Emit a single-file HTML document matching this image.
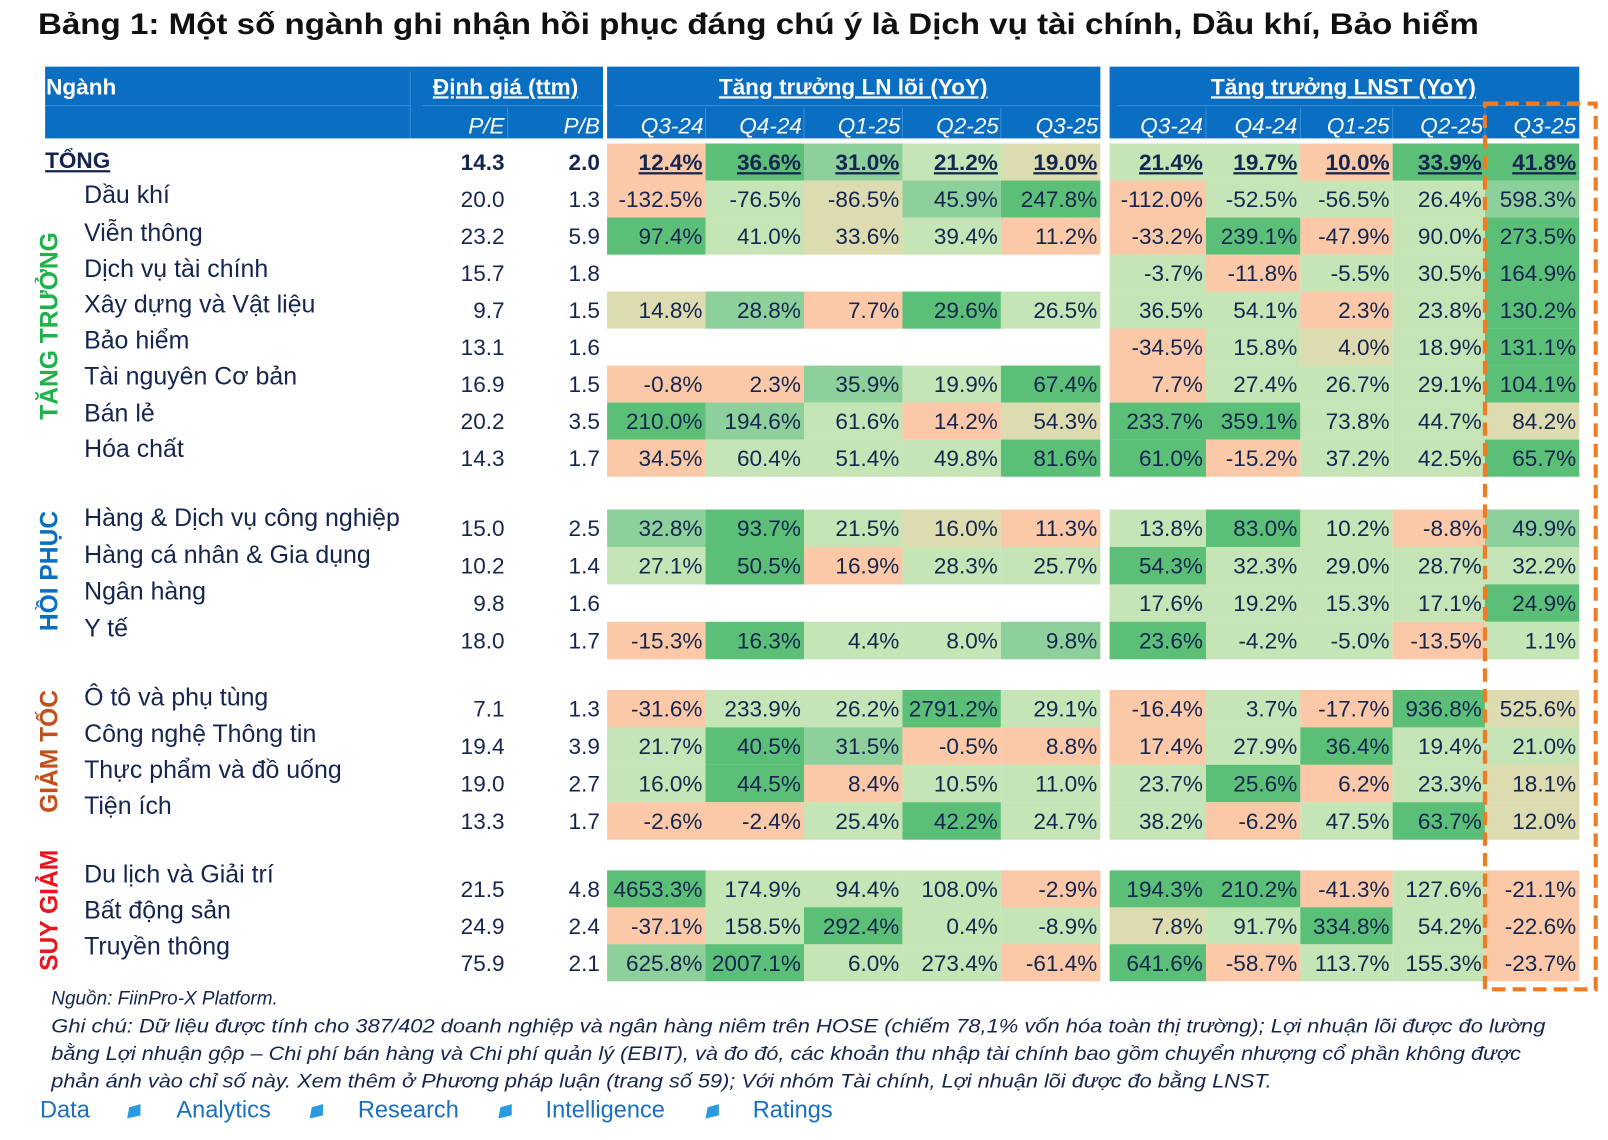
<!DOCTYPE html>
<html><head><meta charset="utf-8">
<style>
html,body{margin:0;padding:0;background:#fff;}
svg{display:block;}
text{font-family:"Liberation Sans",sans-serif;}
.O{fill:#fbc9a8}.G3{fill:#5cbf78}.G2{fill:#8ed09b}.G1{fill:#c5e5b6}.Y{fill:#dddcb0}
.n{font-size:22px;fill:#14254f;text-anchor:end}
.nm{font-size:24.3px;fill:#14254f}
.h{fill:#fff;font-weight:bold;font-size:22px}
.hi{fill:#fff;font-style:italic;font-size:22px;text-anchor:end}
</style></head><body>
<svg width="1608" height="1140" viewBox="0 0 1568 1112" preserveAspectRatio="none" xmlns="http://www.w3.org/2000/svg">
<text x="37" y="33" font-size="29" font-weight="bold" fill="#111" textLength="1405" lengthAdjust="spacingAndGlyphs">Bảng 1: Một số ngành ghi nhận hồi phục đáng chú ý là Dịch vụ tài chính, Dầu khí, Bảo hiểm</text>
<rect x="44" y="65" width="544" height="70" fill="#0a6fc2"/>
<rect x="592" y="65" width="481" height="70" fill="#0a6fc2"/>
<rect x="1082" y="65" width="458" height="70" fill="#0a6fc2"/>
<g stroke="#3b8fd6" stroke-width="1">
<line x1="44" y1="103" x2="400" y2="103"/><line x1="412" y1="103" x2="588" y2="103"/>
<line x1="600" y1="103" x2="1073" y2="103"/><line x1="1090" y1="103" x2="1540" y2="103"/>
<line x1="400" y1="70" x2="400" y2="135"/><line x1="495" y1="105" x2="495" y2="135"/>
<line x1="688" y1="105" x2="688" y2="135"/><line x1="784" y1="105" x2="784" y2="135"/><line x1="880" y1="105" x2="880" y2="135"/><line x1="976" y1="105" x2="976" y2="135"/>
<line x1="1176" y1="105" x2="1176" y2="135"/><line x1="1268" y1="105" x2="1268" y2="135"/><line x1="1358" y1="105" x2="1358" y2="135"/><line x1="1448" y1="105" x2="1448" y2="135"/>
</g>
<text class="h" x="45" y="92">Ngành</text>
<text class="h" x="493" y="92" text-anchor="middle" text-decoration="underline">Định giá (ttm)</text>
<text class="h" x="832" y="92" text-anchor="middle" text-decoration="underline">Tăng trưởng LN lõi (YoY)</text>
<text class="h" x="1310" y="92" text-anchor="middle" text-decoration="underline">Tăng trưởng LNST (YoY)</text>
<text class="hi" y="130"><tspan x="492">P/E</tspan><tspan x="585">P/B</tspan><tspan x="686">Q3-24</tspan><tspan x="782">Q4-24</tspan><tspan x="878">Q1-25</tspan><tspan x="974">Q2-25</tspan><tspan x="1071">Q3-25</tspan><tspan x="1173">Q3-24</tspan><tspan x="1265">Q4-24</tspan><tspan x="1355">Q1-25</tspan><tspan x="1446">Q2-25</tspan><tspan x="1537">Q3-25</tspan></text>

<text transform="translate(56,318) rotate(-90)" text-anchor="middle" font-size="24" font-weight="bold" fill="#1db34a">TĂNG TRƯỞNG</text>
<text transform="translate(56,557) rotate(-90)" text-anchor="middle" font-size="24" font-weight="bold" fill="#0a6fc2">HỒI PHỤC</text>
<text transform="translate(56,733) rotate(-90)" text-anchor="middle" font-size="24" font-weight="bold" fill="#c0501c">GIẢM TỐC</text>
<text transform="translate(56,888) rotate(-90)" text-anchor="middle" font-size="24" font-weight="bold" fill="#e8141e">SUY GIẢM</text>

<text x="44" y="164" font-size="22" font-weight="bold" fill="#14254f" text-decoration="underline">TỔNG</text>
<g class="nm">
<text x="82" y="198">Dầu khí</text><text x="82" y="235">Viễn thông</text><text x="82" y="270">Dịch vụ tài chính</text><text x="82" y="305">Xây dựng và Vật liệu</text><text x="82" y="340">Bảo hiểm</text><text x="82" y="375">Tài nguyên Cơ bản</text><text x="82" y="411">Bán lẻ</text><text x="82" y="446">Hóa chất</text>
<text x="82" y="513">Hàng &amp; Dịch vụ công nghiệp</text><text x="82" y="549">Hàng cá nhân &amp; Gia dụng</text><text x="82" y="585">Ngân hàng</text><text x="82" y="621">Y tế</text>
<text x="82" y="688">Ô tô và phụ tùng</text><text x="82" y="724">Công nghệ Thông tin</text><text x="82" y="759">Thực phẩm và đồ uống</text><text x="82" y="794">Tiện ích</text>
<text x="82" y="861">Du lịch và Giải trí</text><text x="82" y="896">Bất động sản</text><text x="82" y="931">Truyền thông</text>
</g>

<g transform="translate(0,140)">
<rect class="O" x="592" width="96" height="36.2"/><rect class="G3" x="688" width="96" height="36.2"/><rect class="G2" x="784" width="96" height="36.2"/><rect class="G1" x="880" width="96" height="36.2"/><rect class="Y" x="976" width="97" height="36.2"/>
<rect class="G1" x="1082" width="94" height="36.2"/><rect class="G1" x="1176" width="92" height="36.2"/><rect class="O" x="1268" width="90" height="36.2"/><rect class="G3" x="1358" width="90" height="36.2"/><rect class="G3" x="1448" width="92" height="36.2"/>
<text class="n" y="26" font-weight="bold"><tspan x="492">14.3</tspan><tspan x="585">2.0</tspan></text>
<text class="n" y="26" font-weight="bold" text-decoration="underline"><tspan x="685">12.4%</tspan><tspan x="781">36.6%</tspan><tspan x="877">31.0%</tspan><tspan x="973">21.2%</tspan><tspan x="1070">19.0%</tspan><tspan x="1173">21.4%</tspan><tspan x="1265">19.7%</tspan><tspan x="1355">10.0%</tspan><tspan x="1445">33.9%</tspan><tspan x="1537">41.8%</tspan></text>
</g>
<g transform="translate(0,176.1)">
<rect class="O" x="592" width="96" height="36.2"/><rect class="G1" x="688" width="96" height="36.2"/><rect class="Y" x="784" width="96" height="36.2"/><rect class="G2" x="880" width="96" height="36.2"/><rect class="G3" x="976" width="97" height="36.2"/>
<rect class="O" x="1082" width="94" height="36.2"/><rect class="G1" x="1176" width="92" height="36.2"/><rect class="G1" x="1268" width="90" height="36.2"/><rect class="G1" x="1358" width="90" height="36.2"/><rect class="G2" x="1448" width="92" height="36.2"/>
<text class="n" y="26"><tspan x="492">20.0</tspan><tspan x="585">1.3</tspan><tspan x="685">-132.5%</tspan><tspan x="781">-76.5%</tspan><tspan x="877">-86.5%</tspan><tspan x="973">45.9%</tspan><tspan x="1070">247.8%</tspan><tspan x="1173">-112.0%</tspan><tspan x="1265">-52.5%</tspan><tspan x="1355">-56.5%</tspan><tspan x="1445">26.4%</tspan><tspan x="1537">598.3%</tspan></text>
</g>
<g transform="translate(0,212.2)">
<rect class="G3" x="592" width="96" height="36.2"/><rect class="G1" x="688" width="96" height="36.2"/><rect class="Y" x="784" width="96" height="36.2"/><rect class="G1" x="880" width="96" height="36.2"/><rect class="O" x="976" width="97" height="36.2"/>
<rect class="O" x="1082" width="94" height="36.2"/><rect class="G3" x="1176" width="92" height="36.2"/><rect class="O" x="1268" width="90" height="36.2"/><rect class="G1" x="1358" width="90" height="36.2"/><rect class="G3" x="1448" width="92" height="36.2"/>
<text class="n" y="26"><tspan x="492">23.2</tspan><tspan x="585">5.9</tspan><tspan x="685">97.4%</tspan><tspan x="781">41.0%</tspan><tspan x="877">33.6%</tspan><tspan x="973">39.4%</tspan><tspan x="1070">11.2%</tspan><tspan x="1173">-33.2%</tspan><tspan x="1265">239.1%</tspan><tspan x="1355">-47.9%</tspan><tspan x="1445">90.0%</tspan><tspan x="1537">273.5%</tspan></text>
</g>
<g transform="translate(0,248.3)">
<rect class="G1" x="1082" width="94" height="36.2"/><rect class="O" x="1176" width="92" height="36.2"/><rect class="G1" x="1268" width="90" height="36.2"/><rect class="G1" x="1358" width="90" height="36.2"/><rect class="G3" x="1448" width="92" height="36.2"/>
<text class="n" y="26"><tspan x="492">15.7</tspan><tspan x="585">1.8</tspan><tspan x="1173">-3.7%</tspan><tspan x="1265">-11.8%</tspan><tspan x="1355">-5.5%</tspan><tspan x="1445">30.5%</tspan><tspan x="1537">164.9%</tspan></text>
</g>
<g transform="translate(0,284.4)">
<rect class="Y" x="592" width="96" height="36.2"/><rect class="G2" x="688" width="96" height="36.2"/><rect class="O" x="784" width="96" height="36.2"/><rect class="G3" x="880" width="96" height="36.2"/><rect class="G1" x="976" width="97" height="36.2"/>
<rect class="G1" x="1082" width="94" height="36.2"/><rect class="G1" x="1176" width="92" height="36.2"/><rect class="O" x="1268" width="90" height="36.2"/><rect class="G1" x="1358" width="90" height="36.2"/><rect class="G3" x="1448" width="92" height="36.2"/>
<text class="n" y="26"><tspan x="492">9.7</tspan><tspan x="585">1.5</tspan><tspan x="685">14.8%</tspan><tspan x="781">28.8%</tspan><tspan x="877">7.7%</tspan><tspan x="973">29.6%</tspan><tspan x="1070">26.5%</tspan><tspan x="1173">36.5%</tspan><tspan x="1265">54.1%</tspan><tspan x="1355">2.3%</tspan><tspan x="1445">23.8%</tspan><tspan x="1537">130.2%</tspan></text>
</g>
<g transform="translate(0,320.5)">
<rect class="O" x="1082" width="94" height="36.2"/><rect class="G1" x="1176" width="92" height="36.2"/><rect class="Y" x="1268" width="90" height="36.2"/><rect class="G1" x="1358" width="90" height="36.2"/><rect class="G3" x="1448" width="92" height="36.2"/>
<text class="n" y="26"><tspan x="492">13.1</tspan><tspan x="585">1.6</tspan><tspan x="1173">-34.5%</tspan><tspan x="1265">15.8%</tspan><tspan x="1355">4.0%</tspan><tspan x="1445">18.9%</tspan><tspan x="1537">131.1%</tspan></text>
</g>
<g transform="translate(0,356.6)">
<rect class="O" x="592" width="96" height="36.2"/><rect class="O" x="688" width="96" height="36.2"/><rect class="G2" x="784" width="96" height="36.2"/><rect class="G1" x="880" width="96" height="36.2"/><rect class="G3" x="976" width="97" height="36.2"/>
<rect class="O" x="1082" width="94" height="36.2"/><rect class="G1" x="1176" width="92" height="36.2"/><rect class="G1" x="1268" width="90" height="36.2"/><rect class="G1" x="1358" width="90" height="36.2"/><rect class="G3" x="1448" width="92" height="36.2"/>
<text class="n" y="26"><tspan x="492">16.9</tspan><tspan x="585">1.5</tspan><tspan x="685">-0.8%</tspan><tspan x="781">2.3%</tspan><tspan x="877">35.9%</tspan><tspan x="973">19.9%</tspan><tspan x="1070">67.4%</tspan><tspan x="1173">7.7%</tspan><tspan x="1265">27.4%</tspan><tspan x="1355">26.7%</tspan><tspan x="1445">29.1%</tspan><tspan x="1537">104.1%</tspan></text>
</g>
<g transform="translate(0,392.7)">
<rect class="G3" x="592" width="96" height="36.2"/><rect class="G2" x="688" width="96" height="36.2"/><rect class="G1" x="784" width="96" height="36.2"/><rect class="O" x="880" width="96" height="36.2"/><rect class="Y" x="976" width="97" height="36.2"/>
<rect class="G3" x="1082" width="94" height="36.2"/><rect class="G3" x="1176" width="92" height="36.2"/><rect class="G1" x="1268" width="90" height="36.2"/><rect class="G1" x="1358" width="90" height="36.2"/><rect class="Y" x="1448" width="92" height="36.2"/>
<text class="n" y="26"><tspan x="492">20.2</tspan><tspan x="585">3.5</tspan><tspan x="685">210.0%</tspan><tspan x="781">194.6%</tspan><tspan x="877">61.6%</tspan><tspan x="973">14.2%</tspan><tspan x="1070">54.3%</tspan><tspan x="1173">233.7%</tspan><tspan x="1265">359.1%</tspan><tspan x="1355">73.8%</tspan><tspan x="1445">44.7%</tspan><tspan x="1537">84.2%</tspan></text>
</g>
<g transform="translate(0,428.8)">
<rect class="O" x="592" width="96" height="36.2"/><rect class="G1" x="688" width="96" height="36.2"/><rect class="G1" x="784" width="96" height="36.2"/><rect class="G1" x="880" width="96" height="36.2"/><rect class="G3" x="976" width="97" height="36.2"/>
<rect class="G3" x="1082" width="94" height="36.2"/><rect class="O" x="1176" width="92" height="36.2"/><rect class="G1" x="1268" width="90" height="36.2"/><rect class="G1" x="1358" width="90" height="36.2"/><rect class="G3" x="1448" width="92" height="36.2"/>
<text class="n" y="26"><tspan x="492">14.3</tspan><tspan x="585">1.7</tspan><tspan x="685">34.5%</tspan><tspan x="781">60.4%</tspan><tspan x="877">51.4%</tspan><tspan x="973">49.8%</tspan><tspan x="1070">81.6%</tspan><tspan x="1173">61.0%</tspan><tspan x="1265">-15.2%</tspan><tspan x="1355">37.2%</tspan><tspan x="1445">42.5%</tspan><tspan x="1537">65.7%</tspan></text>
</g>

<g transform="translate(0,497)">
<rect class="G2" x="592" width="96" height="36.6"/><rect class="G3" x="688" width="96" height="36.6"/><rect class="G1" x="784" width="96" height="36.6"/><rect class="Y" x="880" width="96" height="36.6"/><rect class="O" x="976" width="97" height="36.6"/>
<rect class="G1" x="1082" width="94" height="36.6"/><rect class="G3" x="1176" width="92" height="36.6"/><rect class="G1" x="1268" width="90" height="36.6"/><rect class="O" x="1358" width="90" height="36.6"/><rect class="G2" x="1448" width="92" height="36.6"/>
<text class="n" y="26"><tspan x="492">15.0</tspan><tspan x="585">2.5</tspan><tspan x="685">32.8%</tspan><tspan x="781">93.7%</tspan><tspan x="877">21.5%</tspan><tspan x="973">16.0%</tspan><tspan x="1070">11.3%</tspan><tspan x="1173">13.8%</tspan><tspan x="1265">83.0%</tspan><tspan x="1355">10.2%</tspan><tspan x="1445">-8.8%</tspan><tspan x="1537">49.9%</tspan></text>
</g>
<g transform="translate(0,533.5)">
<rect class="G1" x="592" width="96" height="36.6"/><rect class="G3" x="688" width="96" height="36.6"/><rect class="O" x="784" width="96" height="36.6"/><rect class="G1" x="880" width="96" height="36.6"/><rect class="G1" x="976" width="97" height="36.6"/>
<rect class="G3" x="1082" width="94" height="36.6"/><rect class="G1" x="1176" width="92" height="36.6"/><rect class="G1" x="1268" width="90" height="36.6"/><rect class="G1" x="1358" width="90" height="36.6"/><rect class="G1" x="1448" width="92" height="36.6"/>
<text class="n" y="26"><tspan x="492">10.2</tspan><tspan x="585">1.4</tspan><tspan x="685">27.1%</tspan><tspan x="781">50.5%</tspan><tspan x="877">16.9%</tspan><tspan x="973">28.3%</tspan><tspan x="1070">25.7%</tspan><tspan x="1173">54.3%</tspan><tspan x="1265">32.3%</tspan><tspan x="1355">29.0%</tspan><tspan x="1445">28.7%</tspan><tspan x="1537">32.2%</tspan></text>
</g>
<g transform="translate(0,570)">
<rect class="G1" x="1082" width="94" height="36.6"/><rect class="G1" x="1176" width="92" height="36.6"/><rect class="G1" x="1268" width="90" height="36.6"/><rect class="G1" x="1358" width="90" height="36.6"/><rect class="G3" x="1448" width="92" height="36.6"/>
<text class="n" y="26"><tspan x="492">9.8</tspan><tspan x="585">1.6</tspan><tspan x="1173">17.6%</tspan><tspan x="1265">19.2%</tspan><tspan x="1355">15.3%</tspan><tspan x="1445">17.1%</tspan><tspan x="1537">24.9%</tspan></text>
</g>
<g transform="translate(0,606.5)">
<rect class="O" x="592" width="96" height="36.6"/><rect class="G3" x="688" width="96" height="36.6"/><rect class="G1" x="784" width="96" height="36.6"/><rect class="G1" x="880" width="96" height="36.6"/><rect class="G2" x="976" width="97" height="36.6"/>
<rect class="G3" x="1082" width="94" height="36.6"/><rect class="G1" x="1176" width="92" height="36.6"/><rect class="G1" x="1268" width="90" height="36.6"/><rect class="O" x="1358" width="90" height="36.6"/><rect class="G1" x="1448" width="92" height="36.6"/>
<text class="n" y="26"><tspan x="492">18.0</tspan><tspan x="585">1.7</tspan><tspan x="685">-15.3%</tspan><tspan x="781">16.3%</tspan><tspan x="877">4.4%</tspan><tspan x="973">8.0%</tspan><tspan x="1070">9.8%</tspan><tspan x="1173">23.6%</tspan><tspan x="1265">-4.2%</tspan><tspan x="1355">-5.0%</tspan><tspan x="1445">-13.5%</tspan><tspan x="1537">1.1%</tspan></text>
</g>

<g transform="translate(0,673)">
<rect class="O" x="592" width="96" height="36.6"/><rect class="G1" x="688" width="96" height="36.6"/><rect class="G1" x="784" width="96" height="36.6"/><rect class="G3" x="880" width="96" height="36.6"/><rect class="G1" x="976" width="97" height="36.6"/>
<rect class="O" x="1082" width="94" height="36.6"/><rect class="G1" x="1176" width="92" height="36.6"/><rect class="O" x="1268" width="90" height="36.6"/><rect class="G3" x="1358" width="90" height="36.6"/><rect class="Y" x="1448" width="92" height="36.6"/>
<text class="n" y="26"><tspan x="492">7.1</tspan><tspan x="585">1.3</tspan><tspan x="685">-31.6%</tspan><tspan x="781">233.9%</tspan><tspan x="877">26.2%</tspan><tspan x="973">2791.2%</tspan><tspan x="1070">29.1%</tspan><tspan x="1173">-16.4%</tspan><tspan x="1265">3.7%</tspan><tspan x="1355">-17.7%</tspan><tspan x="1445">936.8%</tspan><tspan x="1537">525.6%</tspan></text>
</g>
<g transform="translate(0,709.5)">
<rect class="G1" x="592" width="96" height="36.6"/><rect class="G3" x="688" width="96" height="36.6"/><rect class="G2" x="784" width="96" height="36.6"/><rect class="O" x="880" width="96" height="36.6"/><rect class="O" x="976" width="97" height="36.6"/>
<rect class="O" x="1082" width="94" height="36.6"/><rect class="G1" x="1176" width="92" height="36.6"/><rect class="G3" x="1268" width="90" height="36.6"/><rect class="G1" x="1358" width="90" height="36.6"/><rect class="G1" x="1448" width="92" height="36.6"/>
<text class="n" y="26"><tspan x="492">19.4</tspan><tspan x="585">3.9</tspan><tspan x="685">21.7%</tspan><tspan x="781">40.5%</tspan><tspan x="877">31.5%</tspan><tspan x="973">-0.5%</tspan><tspan x="1070">8.8%</tspan><tspan x="1173">17.4%</tspan><tspan x="1265">27.9%</tspan><tspan x="1355">36.4%</tspan><tspan x="1445">19.4%</tspan><tspan x="1537">21.0%</tspan></text>
</g>
<g transform="translate(0,746)">
<rect class="G1" x="592" width="96" height="36.6"/><rect class="G3" x="688" width="96" height="36.6"/><rect class="O" x="784" width="96" height="36.6"/><rect class="G1" x="880" width="96" height="36.6"/><rect class="G1" x="976" width="97" height="36.6"/>
<rect class="G1" x="1082" width="94" height="36.6"/><rect class="G3" x="1176" width="92" height="36.6"/><rect class="O" x="1268" width="90" height="36.6"/><rect class="G1" x="1358" width="90" height="36.6"/><rect class="Y" x="1448" width="92" height="36.6"/>
<text class="n" y="26"><tspan x="492">19.0</tspan><tspan x="585">2.7</tspan><tspan x="685">16.0%</tspan><tspan x="781">44.5%</tspan><tspan x="877">8.4%</tspan><tspan x="973">10.5%</tspan><tspan x="1070">11.0%</tspan><tspan x="1173">23.7%</tspan><tspan x="1265">25.6%</tspan><tspan x="1355">6.2%</tspan><tspan x="1445">23.3%</tspan><tspan x="1537">18.1%</tspan></text>
</g>
<g transform="translate(0,782.5)">
<rect class="O" x="592" width="96" height="36.6"/><rect class="O" x="688" width="96" height="36.6"/><rect class="G1" x="784" width="96" height="36.6"/><rect class="G3" x="880" width="96" height="36.6"/><rect class="G1" x="976" width="97" height="36.6"/>
<rect class="G1" x="1082" width="94" height="36.6"/><rect class="O" x="1176" width="92" height="36.6"/><rect class="G1" x="1268" width="90" height="36.6"/><rect class="G3" x="1358" width="90" height="36.6"/><rect class="Y" x="1448" width="92" height="36.6"/>
<text class="n" y="26"><tspan x="492">13.3</tspan><tspan x="585">1.7</tspan><tspan x="685">-2.6%</tspan><tspan x="781">-2.4%</tspan><tspan x="877">25.4%</tspan><tspan x="973">42.2%</tspan><tspan x="1070">24.7%</tspan><tspan x="1173">38.2%</tspan><tspan x="1265">-6.2%</tspan><tspan x="1355">47.5%</tspan><tspan x="1445">63.7%</tspan><tspan x="1537">12.0%</tspan></text>
</g>

<g transform="translate(0,849)">
<rect class="G3" x="592" width="96" height="36.2"/><rect class="G1" x="688" width="96" height="36.2"/><rect class="G1" x="784" width="96" height="36.2"/><rect class="G1" x="880" width="96" height="36.2"/><rect class="O" x="976" width="97" height="36.2"/>
<rect class="G3" x="1082" width="94" height="36.2"/><rect class="G3" x="1176" width="92" height="36.2"/><rect class="O" x="1268" width="90" height="36.2"/><rect class="G1" x="1358" width="90" height="36.2"/><rect class="O" x="1448" width="92" height="36.2"/>
<text class="n" y="26"><tspan x="492">21.5</tspan><tspan x="585">4.8</tspan><tspan x="685">4653.3%</tspan><tspan x="781">174.9%</tspan><tspan x="877">94.4%</tspan><tspan x="973">108.0%</tspan><tspan x="1070">-2.9%</tspan><tspan x="1173">194.3%</tspan><tspan x="1265">210.2%</tspan><tspan x="1355">-41.3%</tspan><tspan x="1445">127.6%</tspan><tspan x="1537">-21.1%</tspan></text>
</g>
<g transform="translate(0,885)">
<rect class="O" x="592" width="96" height="36.2"/><rect class="G1" x="688" width="96" height="36.2"/><rect class="G3" x="784" width="96" height="36.2"/><rect class="G1" x="880" width="96" height="36.2"/><rect class="G1" x="976" width="97" height="36.2"/>
<rect class="Y" x="1082" width="94" height="36.2"/><rect class="G1" x="1176" width="92" height="36.2"/><rect class="G3" x="1268" width="90" height="36.2"/><rect class="G1" x="1358" width="90" height="36.2"/><rect class="O" x="1448" width="92" height="36.2"/>
<text class="n" y="26"><tspan x="492">24.9</tspan><tspan x="585">2.4</tspan><tspan x="685">-37.1%</tspan><tspan x="781">158.5%</tspan><tspan x="877">292.4%</tspan><tspan x="973">0.4%</tspan><tspan x="1070">-8.9%</tspan><tspan x="1173">7.8%</tspan><tspan x="1265">91.7%</tspan><tspan x="1355">334.8%</tspan><tspan x="1445">54.2%</tspan><tspan x="1537">-22.6%</tspan></text>
</g>
<g transform="translate(0,921)">
<rect class="G2" x="592" width="96" height="36.2"/><rect class="G3" x="688" width="96" height="36.2"/><rect class="G1" x="784" width="96" height="36.2"/><rect class="G1" x="880" width="96" height="36.2"/><rect class="O" x="976" width="97" height="36.2"/>
<rect class="G3" x="1082" width="94" height="36.2"/><rect class="O" x="1176" width="92" height="36.2"/><rect class="G1" x="1268" width="90" height="36.2"/><rect class="G1" x="1358" width="90" height="36.2"/><rect class="O" x="1448" width="92" height="36.2"/>
<text class="n" y="26"><tspan x="492">75.9</tspan><tspan x="585">2.1</tspan><tspan x="685">625.8%</tspan><tspan x="781">2007.1%</tspan><tspan x="877">6.0%</tspan><tspan x="973">273.4%</tspan><tspan x="1070">-61.4%</tspan><tspan x="1173">641.6%</tspan><tspan x="1265">-58.7%</tspan><tspan x="1355">113.7%</tspan><tspan x="1445">155.3%</tspan><tspan x="1537">-23.7%</tspan></text>
</g>

<rect x="1448" y="101" width="108" height="864" fill="none" stroke="#f07b22" stroke-width="4" stroke-dasharray="13,7"/>

<g font-size="18.5" font-style="italic" fill="#14254f">
<text x="50" y="980">Nguồn: FiinPro-X Platform.</text>
<text x="50" y="1007" textLength="1457" lengthAdjust="spacingAndGlyphs">Ghi chú: Dữ liệu được tính cho 387/402 doanh nghiệp và ngân hàng niêm trên HOSE (chiếm 78,1% vốn hóa toàn thị trường); Lợi nhuận lõi được đo lường</text>
<text x="50" y="1034" textLength="1433" lengthAdjust="spacingAndGlyphs">bằng Lợi nhuận gộp – Chi phí bán hàng và Chi phí quản lý (EBIT), và đo đó, các khoản thu nhập tài chính bao gồm chuyển nhượng cổ phần không được</text>
<text x="50" y="1061" textLength="1190" lengthAdjust="spacingAndGlyphs">phản ánh vào chỉ số này. Xem thêm ở Phương pháp luận (trang số 59); Với nhóm Tài chính, Lợi nhuận lõi được đo bằng LNST.</text>
</g>
<g font-size="23" fill="#1a6fc0">
<text x="39" y="1090">Data</text><text x="172" y="1090">Analytics</text><text x="349" y="1090">Research</text><text x="532" y="1090">Intelligence</text><text x="734" y="1090">Ratings</text>
</g>
<g fill="#2a9be0">
<polygon points="126,1080 137,1077 137,1088 124,1091"/>
<polygon points="304,1080 315,1077 315,1088 302,1091"/>
<polygon points="488,1080 499,1077 499,1088 486,1091"/>
<polygon points="690,1080 701,1077 701,1088 688,1091"/>
</g>
</svg>
</body></html>
